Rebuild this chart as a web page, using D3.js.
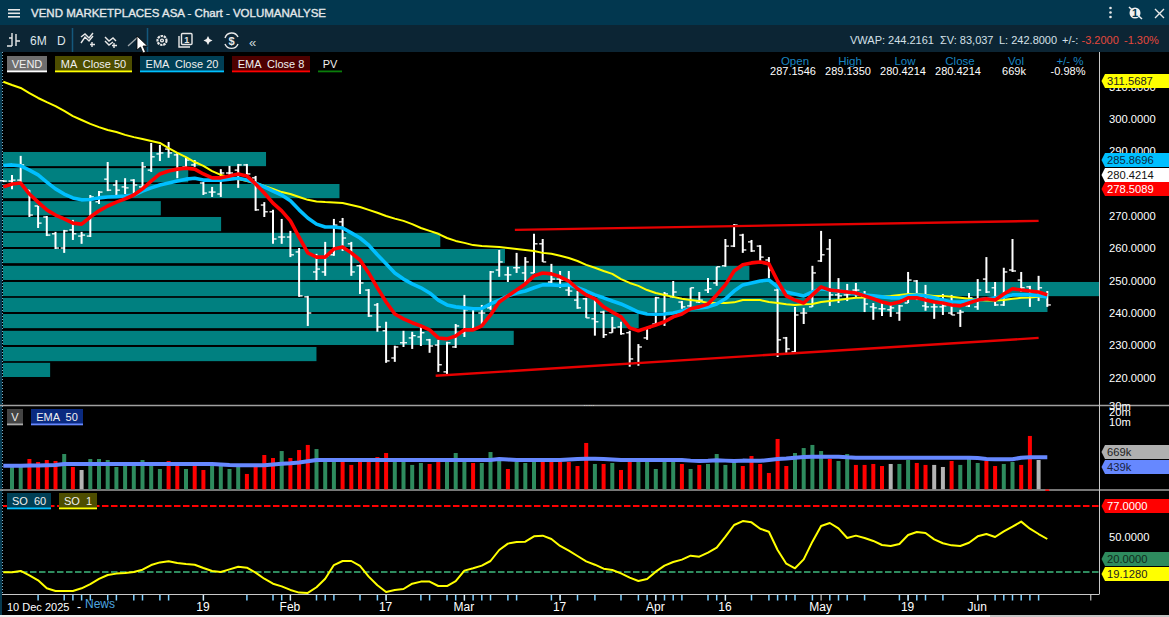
<!DOCTYPE html>
<html lang="en">
<head>
<meta charset="UTF-8">
<title>VEND MARKETPLACES ASA - Chart - VOLUMANALYSE</title>
<script src="https://d3js.org/d3.v7.min.js"></script>
<style>
  html, body { margin: 0; padding: 0; background: #000; overflow: hidden; }
  svg { display: block; }
  text { font-family: "Liberation Sans", Arial, sans-serif; font-size: 11px; white-space: pre; }
  .axis path, .axis line { display: none; }
  .axis text { fill: #fff; font-family: "Liberation Sans", Arial, sans-serif; }
</style>
</head>
<body>
<svg id="chart" width="1169" height="617"></svg>
<script>
// daily bars
const opens = [280.9,280.8,281.1,278.0,273.1,269.7,264.5,260.1,265.7,263.8,263.8,274.4,281.4,279.6,279.0,281.1,279.0,284.2,289.2,290.7,288.9,285.2,285.8,280.2,277.4,276.8,283.3,284.2,285.8,281.8,273.4,271.3,263.5,263.5,258.9,245.0,252.7,252.7,258.0,268.2,261.4,254.6,247.1,242.5,234.5,226.1,230.8,232.3,232.6,231.7,230.1,221.8,229.5,233.9,235.1,240.0,241.6,253.3,251.8,254.0,252.4,252.4,261.4,249.6,250.5,247.1,244.0,244.4,238.2,240.3,233.9,235.7,233.9,224.6,232.3,236.6,237.3,245.0,243.4,242.2,243.4,247.1,249.3,254.6,260.7,264.1,262.0,260.7,256.4,247.1,232.3,228.0,240.0,241.9,256.1,259.8,245.6,245.6,247.1,245.0,241.9,241.3,241.0,240.0,243.1,249.9,242.2,241.9,241.9,240.0,240.0,242.2,241.9,250.5,247.8,242.5,253.3,250.2,248.1,245.0,245.0];
const highs = [281.1,282.7,288.6,278.0,273.1,270.0,265.1,265.7,268.8,265.1,276.5,277.7,286.7,281.1,281.7,281.4,286.7,292.6,292.0,292.9,289.5,288.0,287.3,280.5,279.0,284.5,285.5,286.1,286.1,282.4,274.3,271.9,269.1,265.4,260.1,245.3,258.3,262.0,269.1,269.4,262.0,254.9,247.4,243.1,237.3,229.9,234.5,234.2,235.7,232.0,231.7,231.1,236.6,245.6,241.6,242.5,253.0,259.5,254.3,258.6,257.3,264.5,262.9,255.2,253.0,253.0,246.8,244.7,244.0,240.7,238.8,237.3,234.5,230.4,235.7,245.0,246.5,249.9,243.7,247.8,246.5,250.8,254.3,262.9,267.5,264.5,262.6,261.0,257.3,247.8,232.6,241.9,241.6,254.6,265.4,262.9,250.8,249.0,249.3,246.8,243.1,243.1,243.1,242.5,252.7,250.2,248.7,243.1,245.9,245.6,241.0,246.2,250.5,257.3,249.6,254.0,262.9,252.7,248.4,251.5,246.8];
const lows = [280.5,278.3,280.5,269.7,266.3,263.8,259.8,258.6,262.6,261.4,263.5,273.7,277.7,276.2,276.8,277.1,278.7,283.6,287.0,288.0,281.7,284.8,285.2,276.5,275.9,275.9,282.7,278.7,282.7,271.6,269.7,261.4,261.4,257.3,245.0,236.0,250.2,251.5,257.7,259.2,251.5,245.9,238.8,234.2,224.6,224.9,229.5,228.9,229.8,227.7,221.8,220.6,229.2,232.6,234.8,236.6,241.0,251.2,249.6,252.4,249.6,252.4,255.8,249.3,247.8,245.3,241.3,238.5,233.0,232.3,233.9,233.3,223.4,223.7,231.7,236.3,236.0,244.7,241.3,241.9,243.1,246.2,248.4,254.3,260.4,258.6,258.9,256.1,250.8,226.4,227.7,227.7,236.6,241.9,255.8,242.2,243.1,243.7,245.0,240.3,237.9,239.1,238.8,237.6,243.1,244.0,240.7,238.2,239.4,239.4,235.7,241.9,241.0,246.2,242.2,242.2,252.7,246.5,241.9,243.7,241.9];
const closes = [280.8,281.1,285.8,270.3,267.8,264.1,260.1,265.4,264.5,264.1,275.9,277.4,278.0,278.0,278.7,279.6,285.2,288.3,289.5,289.5,284.8,287.3,286.4,277.1,277.4,283.3,283.3,285.8,283.0,271.9,271.3,262.9,263.5,258.0,245.3,240.0,253.6,257.7,267.2,263.2,252.7,249.3,239.1,235.7,225.2,229.5,230.8,233.0,233.9,229.8,224.0,230.8,236.0,241.0,241.3,240.0,252.7,255.8,251.8,254.0,255.8,261.4,255.8,250.5,250.2,246.8,241.6,238.5,237.3,233.3,235.4,233.6,225.8,229.5,235.4,244.7,245.9,246.5,241.9,247.8,244.0,247.5,254.3,260.7,267.2,259.5,259.2,257.3,253.3,231.7,228.9,239.4,240.0,252.4,258.0,245.6,245.3,245.9,247.1,242.8,241.6,241.3,241.6,242.2,250.2,245.0,241.9,241.9,242.2,239.4,240.3,244.7,247.1,246.5,242.5,252.7,253.0,247.8,246.5,247.8,242.5];

const ma50 = [311.5,310.5,309.6,308.0,306.5,305.2,304.0,302.5,300.9,299.7,298.5,297.5,296.6,296.0,295.1,294.4,293.8,293.2,292.6,291.0,289.5,288.2,286.7,285.5,283.9,282.7,282.1,281.4,280.8,280.2,279.3,278.4,277.4,276.8,275.9,275.0,274.5,274.3,274.2,274.0,273.4,272.8,271.9,271.0,270.0,269.2,268.5,267.5,266.3,265.4,264.5,263.2,262.3,261.7,261.0,260.7,260.6,260.4,260.1,259.8,259.5,259.2,258.6,258.3,257.7,257.0,256.1,254.9,254.0,253.0,252.1,250.5,249.3,248.4,247.1,246.2,245.6,245.0,244.4,244.0,243.7,243.1,243.1,243.1,243.3,244.0,244.0,244.0,243.4,243.1,242.7,242.5,242.7,242.8,243.4,243.7,244.0,244.4,244.7,244.8,245.0,245.1,245.3,245.6,245.9,245.9,245.6,245.3,245.3,245.0,244.7,244.4,244.0,243.9,243.9,244.0,244.4,244.7,244.8,245.0,245.0];
const ema20 = [285.6,285.8,285.5,284.2,282.7,280.5,278.4,276.8,275.6,275.0,275.1,275.6,275.9,276.0,276.2,276.5,277.7,278.7,279.6,280.2,280.8,281.4,281.7,281.1,281.1,281.1,281.4,281.7,281.1,280.2,279.0,277.7,276.5,274.7,271.9,269.4,267.5,266.6,266.6,266.3,264.8,263.2,261.0,258.0,255.2,252.4,250.5,249.0,247.8,246.2,244.0,242.5,241.9,241.6,241.3,241.4,242.8,244.0,245.3,246.2,246.8,247.8,248.7,248.7,248.5,248.7,247.8,246.8,245.6,244.7,243.7,242.8,241.6,240.3,239.7,239.6,239.7,240.0,240.6,241.3,241.6,241.9,242.8,244.4,246.8,248.7,249.3,249.9,250.2,248.1,246.5,245.9,245.3,246.5,247.5,247.1,246.8,246.5,246.0,245.6,245.3,245.0,244.7,244.7,245.3,245.6,245.3,244.7,244.0,243.4,243.4,243.7,244.0,244.4,244.7,245.0,245.6,245.6,245.6,245.4,245.0];
const ema8 = [279.0,279.9,280.2,276.8,274.3,271.9,270.3,269.1,267.8,267.5,269.7,271.6,273.1,274.3,275.3,276.5,278.4,280.8,283.0,283.9,284.5,284.8,284.5,283.0,281.8,281.8,282.4,283.0,282.4,279.9,277.1,274.0,271.6,268.5,263.5,258.6,257.3,257.3,259.8,260.4,258.6,256.4,252.4,247.8,243.4,239.7,238.2,237.0,236.0,234.8,232.3,232.0,232.9,234.8,234.8,236.0,239.4,243.4,245.3,247.1,249.0,251.5,252.4,252.1,251.2,249.9,247.5,245.6,244.4,241.9,240.3,238.8,235.4,234.5,235.4,236.3,237.3,238.8,239.7,241.3,241.9,242.8,245.6,248.7,253.0,254.9,255.5,255.8,255.2,249.9,245.3,244.0,243.1,245.6,248.1,247.1,246.8,246.5,246.2,245.3,244.4,243.4,242.8,243.4,244.7,244.7,244.0,243.4,243.1,242.5,242.2,243.1,244.0,244.4,244.0,245.9,247.5,247.1,246.8,246.5,245.6];

// trend channel: bar index and price at each end
const trendUpperIdx = [58.8, 119], trendUpperPrice = [265.7, 268.5];
const trendLowerIdx = [49.7, 119], trendLowerPrice = [220.6, 232.3];

// volume profile: top of each 5 point band and its share of the biggest band
const profileTop = [289.8,284.8,279.9,274.6,269.7,264.8,259.8,254.6,249.6,244.7,239.7,234.5,229.5,224.6];
const profileShare = [24.0,16.9,30.7,14.4,19.9,39.9,45.8,68.1,100,95.3,58.0,46.6,28.6,4.3];

// volume in thousands, g/r/n = up/down/unchanged colour
const volumes = [null,408,408,718,581,669,624,1022,408,330,718,718,669,408,472,472,669,472,354,624,472,354,472,330,472,472,354,408,249,408,952,771,1262,771,1354,1942,1453,581,581,581,472,581,581,827,1096,581,581,472,542,505,581,581,1096,581,542,542,1176,624,354,581,542,581,581,581,581,581,437,2234,505,505,542,330,581,581,581,354,581,581,505,354,472,505,1022,472,581,437,888,505,267,2966,437,1096,1559,1942,1262,718,624,1022,472,472,505,437,505,505,669,542,472,472,408,624,472,888,542,624,437,505,581,472,3671,669,83];
const volState = "n g g r r r r g r n g g g g g g g g g r r g r r g g g g r r r r g r r r g g g r r r r r r g g g g r r g g g r g g g r g g g r r r r r r g r g r r g g g g g r g r g g g g r r r r r r g g g g r g g r r r r n g g r r n n r g g g r r g g r r n r".split(" ");
const volEma = [448,448,448,450,455,460,470,505,505,505,505,505,505,505,505,505,505,505,505,505,505,505,505,505,505,490,470,460,460,460,462,490,510,530,560,610,669,669,669,669,669,669,669,669,669,669,669,669,669,669,669,669,669,669,669,669,669,718,690,669,669,669,669,669,669,690,718,735,735,718,690,669,669,669,669,669,669,669,669,640,624,630,660,640,624,640,630,630,670,718,740,790,830,848,848,848,848,810,790,790,790,790,790,790,790,790,790,790,790,790,790,790,770,720,700,700,710,780,812,812,812];

// stochastic
const so1 = [19.7,19.7,20.9,17.1,12.8,5.9,3.6,3.6,3.6,5.9,9.6,14,17.4,18.6,19.1,20,22,26,28.3,29.2,27.8,26.9,26.3,23.5,20.9,20,22.3,24.6,23.7,19.4,14.2,9.9,7.6,4.5,2.2,1.9,6.8,14.2,26,29.5,29.5,25.2,16,8.5,2.7,4.5,5.3,9.9,11.7,11.7,7.9,7.9,12.2,21.2,23.2,25.5,29.5,39,44.5,45.9,46.2,50.8,51.4,48.5,42.5,38.4,33.8,29.2,26.3,22.9,21.7,18.8,15.1,12.2,14,20.3,25.5,28.6,30.7,34.1,33.2,36.7,41,50.5,60.6,64,62.9,57.4,54.8,39,27.2,23.2,30.9,46.2,59.7,62.3,57.7,49.4,51.4,49.4,46.8,43.3,42.5,44.2,52,54.5,53.7,48.2,44.8,43,42.5,45.3,50.8,52.8,50.2,55.1,59.1,63.5,57.4,52.8,48.5];
const soUpper = 77, soLower = 20;

// time axis
const dateTickIdx = [23,33,44,53,64,75,83,94,104,112];
const dateTickLabels = ["19","Feb","17","Mar","17","Apr","16","May","19","Jun"];
const newsIdx = [4,7,8,9,10,12,13,15,16,18,19,23,28,31,32,33,36,37,38,41,43,44,48,49,51,52,53,54,55,56,58,59,63,64,66,68,71,73,74,75,76,77,78,81,82,83,86,88,89,90,91,93,95,96,97,99,103,104,105,106,108,112,114,115,116,117,118,119];
const priceTicks = [220,230,240,250,260,270,280,290,300,310];

const svg = d3.select("#chart");
const x = d3.scaleLinear().domain([0, 120]).range([3.3, 1047.3]);
const y = d3.scaleLinear().domain([220, 300]).range([377.7, 119]);
const yVol = d3.scaleLog().domain([80, 20000]).range([490, 412]);
const ySo = d3.scaleLinear().domain([20, 77]).range([572, 506]);
const xProfile = d3.scaleLinear().domain([0, 100]).range([3, 1099]);
const idx = d3.range(opens.length);

// window chrome
svg.append("rect").attr("width", 1169).attr("height", 617).attr("fill", "#000");
svg.append("rect").attr("width", 1169).attr("height", 25).attr("fill", "#02374f");
svg.append("rect").attr("y", 25).attr("width", 1169).attr("height", 27).attr("fill", "#0c2534");
svg.append("rect").attr("y", 615).attr("width", 1169).attr("height", 2).attr("fill", "#f0f0f0");
svg.append("rect").attr("x", 990).attr("y", 615).attr("width", 179).attr("height", 2).attr("fill", "#c4c4c4");
svg.append("rect").attr("y", 52).attr("width", 2).attr("height", 563).attr("fill", "#063a50");

// volume profile
svg.append("g").selectAll("rect").data(profileTop).join("rect")
  .attr("x", 3)
  .attr("y", d => y(d))
  .attr("width", (d, i) => xProfile(profileShare[i]) - 3)
  .attr("height", d => y(d - 5) - y(d) - 2)
  .attr("fill", "#008080");

// OHLC bars
const bars = svg.append("g").attr("stroke", "#fff");
bars.selectAll(".hl").data(idx).join("line").attr("class", "hl")
  .attr("x1", i => x(i)).attr("x2", i => x(i))
  .attr("y1", i => y(highs[i])).attr("y2", i => y(lows[i]))
  .attr("stroke-width", 2);
bars.selectAll(".op").data(idx).join("line").attr("class", "op")
  .attr("x1", i => x(i) - 3.5).attr("x2", i => x(i))
  .attr("y1", i => y(opens[i])).attr("y2", i => y(opens[i]))
  .attr("stroke-width", 1.3);
bars.selectAll(".cl").data(idx).join("line").attr("class", "cl")
  .attr("x1", i => x(i)).attr("x2", i => x(i) + 3.5)
  .attr("y1", i => y(closes[i])).attr("y2", i => y(closes[i]))
  .attr("stroke-width", 1.3);

// trend channel
function trend(xs, ps) {
  svg.append("line")
    .attr("x1", x(xs[0])).attr("x2", x(xs[1]))
    .attr("y1", y(ps[0])).attr("y2", y(ps[1]))
    .attr("stroke", "#e60000").attr("stroke-width", 2.4);
}
trend(trendUpperIdx, trendUpperPrice);
trend(trendLowerIdx, trendLowerPrice);

// moving averages
const lineOf = (yScale) => d3.line().x((d, i) => x(i)).y(d => yScale(d));
function plot(values, yScale, color, width) {
  svg.append("path").datum(values)
    .attr("d", lineOf(yScale))
    .attr("fill", "none").attr("stroke", color).attr("stroke-width", width)
    .attr("stroke-linejoin", "round");
}
plot(ma50, y, "#ffff00", 2);
plot(ema20, y, "#00bfff", 3.6);
plot(ema8, y, "#ff0000", 3.6);

// pane separators and axis lines
[405.5, 490].forEach(v => {
  svg.append("line").attr("x1", 0).attr("x2", 1169).attr("y1", v).attr("y2", v)
    .attr("stroke", "#a0a0a0").attr("stroke-width", 1.6);
});
svg.append("line").attr("x1", 1099.5).attr("x2", 1099.5).attr("y1", 52).attr("y2", 594).attr("stroke", "#c8c8c8");
svg.append("line").attr("x1", 2).attr("x2", 1099.5).attr("y1", 594.5).attr("y2", 594.5).attr("stroke", "#c8c8c8");
svg.append("line").attr("x1", 2.5).attr("x2", 2.5).attr("y1", 52).attr("y2", 594)
  .attr("stroke", "#7fb0c8").attr("stroke-dasharray", "1,2");
svg.append("text").attr("x", 589).attr("y", 406).attr("text-anchor", "middle").attr("fill", "#ddd")
  .style("font-size", "8px").text(".....");

// volume pane
const volColor = { g: "#2e8b5e", r: "#ff0000", n: "#b4b4b4" };
svg.append("g").selectAll("rect").data(idx.filter(i => volumes[i] !== null)).join("rect")
  .attr("x", i => x(i) - 2)
  .attr("width", 4)
  .attr("y", i => yVol(volumes[i]))
  .attr("height", i => Math.max(489.3 - yVol(volumes[i]), 1.5))
  .attr("fill", i => volColor[volState[i]]);
plot(volEma, yVol, "#6688ff", 4);

// stochastic pane
[[soUpper, "#ff0000"], [soLower, "#2e8b5e"]].forEach(([v, c]) => {
  svg.append("line").attr("x1", 3).attr("x2", 1099)
    .attr("y1", ySo(v)).attr("y2", ySo(v))
    .attr("stroke", c).attr("stroke-width", 1.8).attr("stroke-dasharray", "6.5,2.5");
});
plot(so1, ySo, "#ffff00", 2);

// news and date ticks
svg.append("g").selectAll("line").data(newsIdx).join("line")
  .attr("x1", i => x(i)).attr("x2", i => x(i)).attr("y1", 595).attr("y2", 600.5)
  .attr("stroke", "#7fd0ff").attr("stroke-width", 1.5);
svg.append("g").selectAll("line").data(dateTickIdx.concat([125])).join("line")
  .attr("x1", i => x(i)).attr("x2", i => x(i)).attr("y1", 595).attr("y2", 600.5)
  .attr("stroke", "#e8e8e8").attr("stroke-width", 1);

// axes
svg.append("g").attr("class", "axis").attr("transform", "translate(1109,0)")
  .call(d3.axisRight(y).tickValues(priceTicks).tickFormat(d3.format(".4f")).tickSize(0).tickPadding(0));
svg.append("g").attr("class", "axis").attr("transform", "translate(1109,0)")
  .call(d3.axisRight(yVol).tickValues([10000, 20000, 30000]).tickFormat(d => (d / 1000) + "m").tickSize(0).tickPadding(0));
svg.append("g").attr("class", "axis").attr("transform", "translate(1109,0)")
  .call(d3.axisRight(ySo).tickValues([50]).tickFormat(d3.format(".4f")).tickSize(0).tickPadding(0));
svg.selectAll(".axis text").style("font-size", "11.2px");
svg.append("g").attr("class", "axis date").attr("transform", "translate(-1,602)")
  .call(d3.axisBottom(x).tickValues(dateTickIdx).tickFormat((d, i) => dateTickLabels[i]).tickSize(0).tickPadding(0));
svg.selectAll(".date text").style("font-size", "12px");

function label(px, py, str, color, size, anchor, weight) {
  return svg.append("text").attr("x", px).attr("y", py).attr("fill", color)
    .attr("text-anchor", anchor || "start")
    .style("font-size", (size || 11) + "px").style("font-weight", weight || "normal").text(str);
}
label(7, 611, "10 Dec 2025", "#fff", 11);
label(77, 611, "-", "#fff", 12);
label(85, 608, "News", "#4da6e0", 12);

// value tags on the right
function tag(top, str, fill, color) {
  svg.append("path")
    .attr("d", `M1101.5 ${top + 7} L1105 ${top} H1169 V${top + 14} H1105 Z`)
    .attr("fill", fill);
  label(1107, top + 11, str, color, 11.2);
}
tag(74, "311.5687", "#ffff00", "#222");
tag(153, "285.8696", "#00bfff", "#0a2a40");
tag(168, "280.4214", "#ffffff", "#111");
tag(182, "278.5089", "#ff0000", "#fff");
tag(445, "669k", "#b0b0b0", "#222");
tag(460, "439k", "#6688ff", "#1a2340");
tag(499, "77.0000", "#ff0000", "#fff");
tag(552, "20.0000", "#2e8b5e", "#102a1c");
tag(567, "19.1280", "#ffff00", "#222");

// legend chips
function chip(px, py, w, str, bg, line) {
  svg.append("rect").attr("x", px).attr("y", py).attr("width", w).attr("height", 16).attr("fill", bg);
  svg.append("rect").attr("x", px).attr("y", py + 14.5).attr("width", w).attr("height", 1.8).attr("fill", line);
  label(px + w / 2, py + 11.5, str, "#f0f0f0", 11, "middle");
}
chip(7, 56, 40, "VEND", "#6e6e6e", "#ffffff");
chip(55, 56, 77, "MA  Close 50", "#4d4d00", "#ffff00");
chip(140, 56, 84, "EMA  Close 20", "#003f55", "#00bfff");
chip(232, 56, 78, "EMA  Close 8", "#4d0000", "#ff0000");
chip(318, 56, 24, "PV", "#000", "#0a7d0a");
chip(7, 409, 16, "V", "#444", "#aaaaaa");
chip(31, 409, 52, "EMA  50", "#0a2a80", "#6688ff");
chip(7, 493, 44, "SO  60", "#003f55", "#00bfff");
chip(59, 493, 38, "SO  1", "#4d4d00", "#ffff00");

// OHLC readout
const readHead = ["Open", "High", "Low", "Close", "Vol", "+/- %"];
const readVals = ["287.1546", "289.1350", "280.4214", "280.4214", "669k", "-0.98%"];
const readX = [793, 848, 903, 958, 1014, 1068];
readHead.forEach((h, i) => {
  label(readX[i] + 2, 65, h, "#1a85c0", 11.5, "middle");
  label(readX[i], 75, readVals[i], "#fff", 11, "middle");
});

// title bar
[10, 13.5, 17].forEach(v => {
  svg.append("rect").attr("x", 8).attr("y", v - 1).attr("width", 12).attr("height", 1.6).attr("fill", "#e8e8e8");
});
label(31, 17, "VEND MARKETPLACES ASA - Chart - VOLUMANALYSE", "#e4e8ea", 11.5)
  .attr("stroke", "#e4e8ea").attr("stroke-width", 0.35);
[8, 12.5, 17].forEach(v => {
  svg.append("circle").attr("cx", 1110.5).attr("cy", v).attr("r", 1.3).attr("fill", "#e8e8e8");
});
svg.append("circle").attr("cx", 1135).attr("cy", 13).attr("r", 5.5).attr("fill", "#f0f0f0");
svg.append("line").attr("x1", 1129).attr("x2", 1142).attr("y1", 7).attr("y2", 19).attr("stroke", "#f0f0f0").attr("stroke-width", 1.5);
label(1135, 17, "1", "#02374f", 11, "middle", "bold");
svg.append("path").attr("d", "M1155 9 L1164 18 M1164 9 L1155 18").attr("stroke", "#e8e8e8").attr("stroke-width", 1.4);

// toolbar
const tool = svg.append("g").attr("fill", "none").attr("stroke", "#e8e8e8").attr("stroke-width", 1.4);
tool.append("path").attr("d", "M9 38 H12 M12 33 V46 M16 34 V46 M16 41 H20 M7 46 H12");
label(30, 45, "6M", "#dfe6ea", 12);
label(57, 45, "D", "#dfe6ea", 12);
[72.5, 147.5].forEach(v => {
  svg.append("line").attr("x1", v).attr("x2", v).attr("y1", 28).attr("y2", 52).attr("stroke", "#14587c").attr("stroke-width", 1.5);
});
tool.append("path").attr("d", "M81 43 L85 37 L89 41 L93 36 M81 37 L85 34 L89 38 L93 33 M92 42 V47 M90 44.5 H95");
tool.append("path").attr("d", "M105 37 L109 41 L113 38 L116 41 M105 41 L109 45 L113 42 M114 43 V48 M112 45.5 H117");
tool.append("path").attr("d", "M128 46 L138 37").attr("stroke", "#a0a8ac");
tool.append("circle").attr("cx", 162).attr("cy", 40.5).attr("r", 4.5).attr("stroke-width", 2.2).attr("stroke-dasharray", "2.4,0.8");
tool.append("circle").attr("cx", 162).attr("cy", 40.5).attr("r", 1.4);
tool.append("path").attr("d", "M179 36 V47 H190");
tool.append("rect").attr("x", 181.5).attr("y", 33.5).attr("width", 10.5).attr("height", 11).attr("rx", 1);
label(186.7, 43, "1", "#e8e8e8", 9, "middle", "bold");
svg.append("path").attr("d", "M208 36 L209.5 39 L212.5 40.5 L209.5 42 L208 45 L206.5 42 L203.5 40.5 L206.5 39 Z").attr("fill", "#f0f0f0");
tool.append("path").attr("d", "M225 38 A7 7 0 0 1 238 37 M238 44 A7 7 0 0 1 225 44");
label(231.5, 44.5, "$", "#e8e8e8", 11, "middle", "bold");
label(249, 47, "«", "#cfd8dc", 13);
svg.append("path").attr("d", "M137 36 V50 L140.5 47 L143 53 L145.5 52 L143 46 L147.5 46 Z")
  .attr("fill", "#fff").attr("stroke", "#000").attr("stroke-width", 0.8);

// toolbar stats
label(850, 44, "VWAP: 244.2161", "#d4e0e8", 11);
label(940, 44, "ΣV: 83,037", "#d4e0e8", 11);
label(999, 44, "L: 242.8000", "#d4e0e8", 11);
label(1062, 44, "+/-:", "#d4e0e8", 11);
label(1081.5, 44, "-3.2000", "#e5483c", 11);
label(1124, 44, "-1.30%", "#e5483c", 11);
</script>
</body>
</html>
